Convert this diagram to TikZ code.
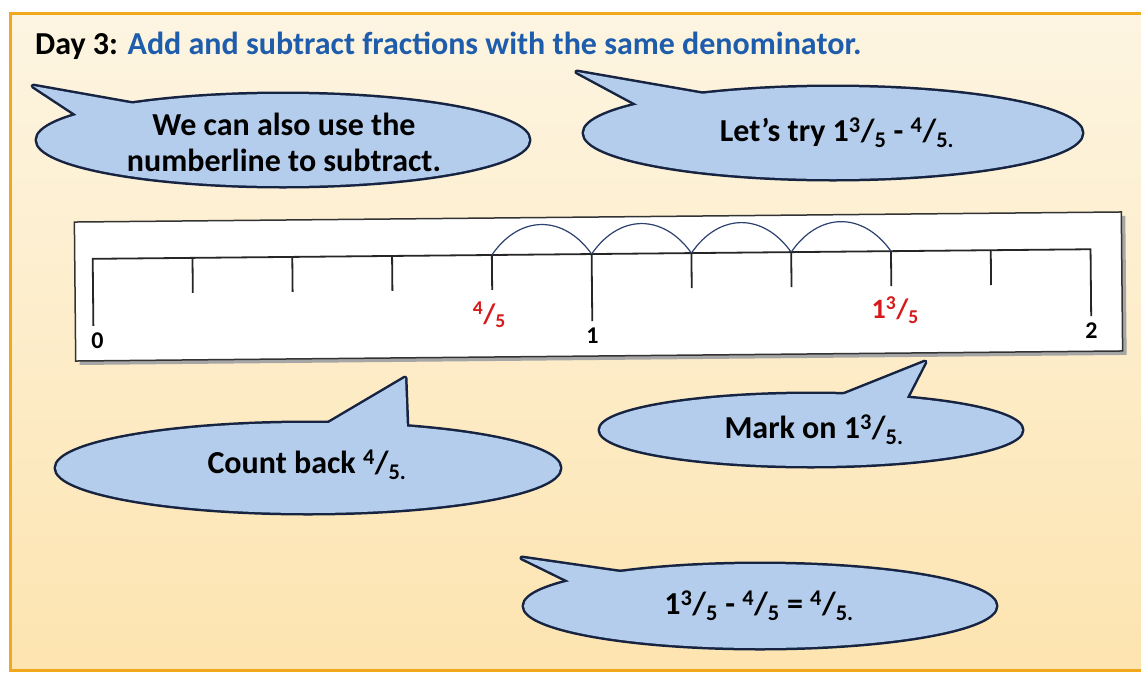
\documentclass[tikz,border=0pt]{standalone}
\usepackage{fontspec}
\setmainfont{Carlito}
\usetikzlibrary{calc}
\definecolor{bgtop}{RGB}{253,245,226}
\definecolor{bgbot}{RGB}{253,228,176}
\definecolor{framecol}{RGB}{242,168,28}
\definecolor{titleblue}{RGB}{30,92,172}
\definecolor{bubblefill}{RGB}{181,205,236}
\definecolor{bubbleedge}{RGB}{22,36,66}
\definecolor{arcblue}{RGB}{45,65,110}
\definecolor{fracred}{RGB}{215,25,25}
\newcommand{\fr}[2]{\textsuperscript{#1}/\textsubscript{#2}}
\newcommand{\bubble}[7]{%
  \fill[bubblefill, draw=bubbleedge, line width=5pt, line join=round] (#1,#2) ellipse[x radius=#3, y radius=#4];
  \fill[bubblefill, draw=bubbleedge, line width=5pt, line join=round] (#5) -- (#6) -- (#7) -- cycle;
  \fill[bubblefill] (#1,#2) ellipse[x radius=#3, y radius=#4];
  \fill[bubblefill] (#5) -- (#6) -- (#7) -- cycle;
}
\tikzset{
  txt/.style={font=\bfseries\fontsize{32}{36}\selectfont, align=center, inner sep=0pt},
  numlbl/.style={font=\bfseries\fontsize{24}{26}\selectfont, inner sep=0pt},
  redlbl/.style={font=\bfseries\fontsize{28}{30}\selectfont, text=fracred, inner sep=0pt},
  hop/.style={arcblue, line width=1.2pt},
  axis/.style={line width=1.8pt, black!85}
}
\begin{document}
\begin{tikzpicture}[x=1pt,y=-1pt]
\useasboundingbox (0,0) rectangle (1141,678);
\clip (0,0) rectangle (1141,678);
\fill[white] (0,0) rectangle (1141,678);
\shade[top color=bgtop, bottom color=bgbot] (10,13) rectangle (1141,670);
\draw[framecol, line width=3pt] (1150,13) -- (10,13) -- (10,670) -- (1150,670);

\node[anchor=base west, font=\bfseries\fontsize{32}{36}\selectfont, inner sep=0pt] (title) at (35,54)
  {Day 3: \textcolor{titleblue}{Add and subtract fractions with the same denominator.}};

% callouts
\bubble{283}{140}{246}{46}{33,86}{80,117}{140,105}
\bubble{833}{133}{249}{46}{577,72}{642,107}{715,96}
\bubble{308}{468}{252}{45}{405,378}{322,427}{407,430}
\bubble{811}{430}{211}{36}{925,362}{830,400}{905,401}
\bubble{760}{606}{236}{42}{522,558}{575,584}{640,575}

\node[txt] (c1) at (284,142) {We can also use the\\numberline to subtract.};
\node[txt] (c2) at (837,133) {Let’s try 1\fr{3}{5} - \fr{4}{5.}};
\node[txt] (c3) at (307,465) {Count back \fr{4}{5.}};
\node[txt] (c4) at (814,430) {Mark on 1\fr{3}{5.}};
\node[txt] (c5) at (759,606) {1\fr{3}{5} - \fr{4}{5} = \fr{4}{5.}};

% number line
\begin{scope}[rotate around={0.55:(598,287)}]
  \fill[black!35] (79,221) rectangle (1126,360);
  \draw[fill=white, draw=black!80, line width=1.5pt] (75,217) rectangle (1122,356);
  \foreach \k in {0,...,10} { \coordinate (n\k) at ({93+99.8*\k},254); }
  \coordinate (e0) at (93,321);
  \coordinate (e10) at (1091,321);
  \draw[axis] (e0) -- (n0) -- (n10) -- (e10);
  \foreach \k in {1,2,3,4,6,7,8,9} { \draw[axis] (n\k) -- ++(0,35); }
  \draw[axis] (n5) -- ++(0,67);
  \node[numlbl] (l0) at (97,336) {0};
  \node[numlbl] (l1) at (n5 |- 0,336) {1};
  \node[numlbl] (l2) at (1091,335) {2};
  \node[redlbl] (r1) at (489,314) {\fr{4}{5}};
  \node[redlbl] (r2) at (895,313) {1\fr{3}{5}};
  \draw[hop] (n8) .. controls +(-28,-40) and +(28,-40) .. (n7);
  \draw[hop] (n7) .. controls +(-28,-40) and +(28,-40) .. (n6);
  \draw[hop] (n6) .. controls +(-28,-40) and +(28,-40) .. (n5);
  \draw[hop] (n5) .. controls +(-28,-40) and +(28,-40) .. (n4);
\end{scope}
\end{tikzpicture}
\end{document}
